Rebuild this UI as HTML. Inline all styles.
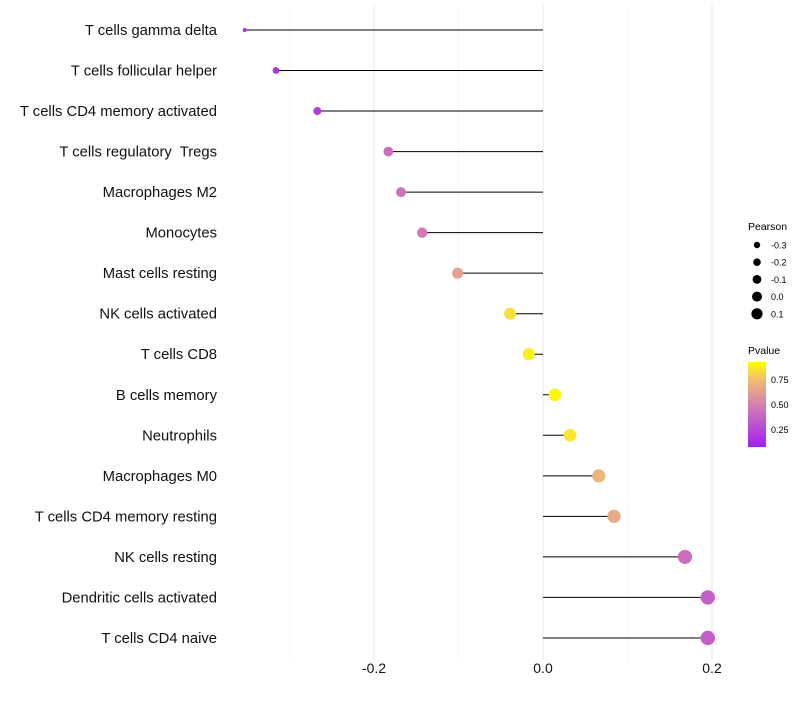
<!DOCTYPE html>
<html><head><meta charset="utf-8"><style>
body{margin:0;background:#fff;font-family:"Liberation Sans",sans-serif}
svg text{font-family:"Liberation Sans",sans-serif;white-space:pre}
</style></head><body>
<svg id="chart" width="800" height="700" xmlns="http://www.w3.org/2000/svg">
<g id="grid"></g>
<g id="marks"></g>
<g id="ylabels"></g>
<g id="xlabels"></g>
<g id="legend">
<defs><linearGradient id="pg" x1="0" y1="1" x2="0" y2="0">
<stop offset="0" stop-color="#a020f0"/><stop offset="0.5" stop-color="#d680b0"/><stop offset="0.8" stop-color="#f2c070"/><stop offset="1" stop-color="#ffff00"/></linearGradient></defs>
<text x="748" y="230" font-size="10.5">Pearson</text>
<text x="748" y="354" font-size="10.5">Pvalue</text>
<rect x="748" y="362" width="18" height="85" fill="url(#pg)"/>
<text x="771" y="383" font-size="9">0.75</text>
<text x="771" y="408" font-size="9">0.50</text>
<text x="771" y="433" font-size="9">0.25</text>
</g>
</svg>
<script>
const categories=["T cells gamma delta","T cells follicular helper","T cells CD4 memory activated","T cells regulatory  Tregs","Macrophages M2","Monocytes","Mast cells resting","NK cells activated","T cells CD8","B cells memory","Neutrophils","Macrophages M0","T cells CD4 memory resting","NK cells resting","Dendritic cells activated","T cells CD4 naive"];
const pearson=[-0.353,-0.316,-0.267,-0.183,-0.168,-0.143,-0.101,-0.039,-0.017,0.014,0.032,0.066,0.084,0.168,0.195,0.195];
const pvalue=[0.08,0.1,0.16,0.4,0.43,0.47,0.65,0.9,0.95,0.97,0.92,0.75,0.7,0.4,0.33,0.33];
const xTicks=[-0.2,0.0,0.2];
const xTickLabels=["-0.2","0.0","0.2"];
const xMinor=[-0.3,-0.1,0.1];
const legendVals=[-0.3,-0.2,-0.1,0.0,0.1];
const legendLabels=["-0.3","-0.2","-0.1","0.0","0.1"];
const NS="http://www.w3.org/2000/svg";
const x=v=>543+v*845;
const y=i=>30+i*40.53;
const rad=v=>2+5.2*Math.sqrt(Math.max(0,(v+0.353)/0.548));
function lerp(a,b,t){return a.map((c,i)=>Math.round(c+(b[i]-c)*t));}
const stops=[[0,[160,32,240]],[0.5,[214,128,176]],[0.8,[242,192,112]],[1,[255,255,0]]];
function col(p){for(let k=1;k<stops.length;k++){if(p<=stops[k][0]){const t=(p-stops[k-1][0])/(stops[k][0]-stops[k-1][0]);return "rgb("+lerp(stops[k-1][1],stops[k][1],t).join(",")+")";}}return "rgb(255,255,0)";}
function mk(tag,attrs,parent){const e=document.createElementNS(NS,tag);for(const k in attrs)e.setAttribute(k,attrs[k]);document.getElementById(parent).appendChild(e);return e;}
xMinor.forEach(v=>{const l=mk("line",{x1:x(v),x2:x(v),y1:5,y2:660,stroke:"#f2f2f2","stroke-width":0.6},"grid");

});
xTicks.forEach((v,i)=>{const l=mk("line",{x1:x(v),x2:x(v),y1:5,y2:660,stroke:"#ebebeb","stroke-width":1.1},"grid");


const t=mk("text",{x:x(v),y:673,"font-size":14,"text-anchor":"middle",fill:"#111"},"xlabels");t.textContent=xTickLabels[i];

});
categories.forEach((c,i)=>{
const l=mk("line",{x1:x(0),x2:x(pearson[i]),y1:y(i),y2:y(i),stroke:"#000","stroke-width":1},"marks");


const p=mk("circle",{cx:x(pearson[i]),cy:y(i),r:rad(pearson[i]),fill:col(pvalue[i])},"marks");


const t=mk("text",{x:217,y:y(i)+5,"font-size":14.8,"text-anchor":"end",fill:"#111"},"ylabels");t.textContent=c;

});
const lr=[3.2,3.8,4.4,5.0,5.6];
legendVals.forEach((v,i)=>{const cy=245+i*17.2;
const c=mk("circle",{cx:757,cy:cy,r:lr[i],fill:"#000"},"legend");


const t=mk("text",{x:771,y:cy+3.5,"font-size":9},"legend");t.textContent=legendLabels[i];

});
</script>
</body></html>
